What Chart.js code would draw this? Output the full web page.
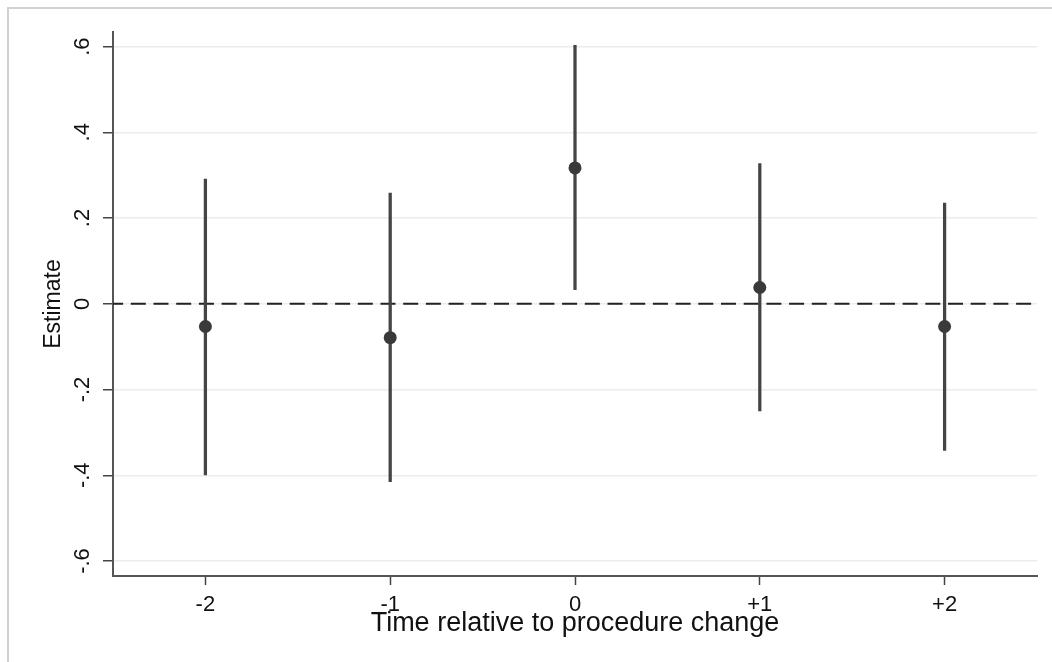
<!DOCTYPE html>
<html>
<head>
<meta charset="utf-8">
<script src="https://cdn.jsdelivr.net/npm/chart.js@4/dist/chart.umd.min.js"></script>
<style>
  body { margin: 0; background: #fff; }
  #wrap { position: relative; width: 1052px; height: 662px; }
  #frame { position: absolute; left: 7px; top: 7px; right: -5px; bottom: -5px; border-top: 2px solid #d2d2d2; border-left: 2px solid #d2d2d2; }
</style>
</head>
<body>
<div id="wrap">
  <div id="frame"></div>
  <canvas id="myChart"></canvas>
</div>
<script>
const periods = ['-2', '-1', '0', '+1', '+2'];
const estimates = [-0.053, -0.079, 0.317, 0.038, -0.053];
const ciLower = [-0.399, -0.415, 0.033, -0.250, -0.342];
const ciUpper = [0.291, 0.258, 0.603, 0.327, 0.235];
const yTickValues = [-0.6, -0.4, -0.2, 0, 0.2, 0.4, 0.6];
const yTickLabels = ['-.6', '-.4', '-.2', '0', '.2', '.4', '.6'];
const yMin = -0.635;
const yMax = 0.634;
const zeroLine = 0;

const font = 'Liberation Sans, Arial, sans-serif';

// dashed reference line at zero, across the whole plot area
const zeroLinePlugin = {
    id: 'zeroLine',
    beforeDatasetsDraw(chart) {
        const {ctx, chartArea, scales} = chart;
        const y = scales.y.getPixelForValue(zeroLine);
        ctx.save();
        ctx.strokeStyle = '#222';
        ctx.lineWidth = 2;
        ctx.setLineDash([15, 7.7]);
        ctx.lineDashOffset = 4.9;
        ctx.beginPath();
        ctx.moveTo(chartArea.left, y);
        ctx.lineTo(chartArea.right, y);
        ctx.stroke();
        ctx.restore();
    }
};

const ctx = document.getElementById('myChart');

new Chart(ctx, {
    type: 'bar',
    data: {
        labels: periods,
        datasets: [{
            label: 'CI',
            data: periods.map((p, i) => [ciLower[i], ciUpper[i]]),
            backgroundColor: '#444',
            borderWidth: 0,
            barThickness: 2.6,
            order: 2
        }, {
            type: 'line',
            label: 'Estimate',
            data: estimates,
            showLine: false,
            pointRadius: 6.5,
            pointBackgroundColor: '#3a3a3a',
            pointBorderWidth: 0,
            order: 1
        }]
    },
    plugins: [zeroLinePlugin],
    options: {
        animation: false,
        responsive: true,
        maintainAspectRatio: false,
        layout: {
            padding: { top: 32, right: 15, left: 0, bottom: 0 }
        },
        plugins: {
            legend: { display: false },
            tooltip: { enabled: false }
        },
        scales: {
            x: {
                offset: true,
                grid: {
                    offset: false,
                    drawOnChartArea: false,
                    drawTicks: true,
                    tickLength: 9,
                    tickColor: '#444',
                    tickWidth: 1.5
                },
                border: { color: '#555', width: 2 },
                ticks: {
                    color: '#111',
                    padding: 7,
                    font: { family: font, size: 22 }
                },
                title: {
                    display: true,
                    text: 'Time relative to procedure change',
                    color: '#111',
                    font: { family: font, size: 27 },
                    padding: { top: 0, bottom: 22 }
                },
                afterFit: s => { s.height = 86; }
            },
            y: {
                min: yMin,
                max: yMax,
                afterBuildTicks: s => { s.ticks = yTickValues.map(v => ({ value: v })); },
                grid: {
                    color: '#ececec',
                    lineWidth: 1.5,
                    tickLength: 10,
                    tickColor: '#444',
                    tickWidth: 1.5
                },
                border: { color: '#555', width: 2 },
                ticks: {
                    color: '#111',
                    padding: 7,
                    minRotation: 90,
                    maxRotation: 90,
                    crossAlign: 'center',
                    font: { family: font, size: 22 },
                    callback: v => yTickLabels[yTickValues.indexOf(v)]
                },
                title: {
                    display: true,
                    text: 'Estimate',
                    color: '#111',
                    font: { family: font, size: 23 },
                    padding: { top: 40, bottom: 0 }
                },
                afterFit: s => { s.width = 113; }
            }
        }
    }
});
</script>
</body>
</html>
